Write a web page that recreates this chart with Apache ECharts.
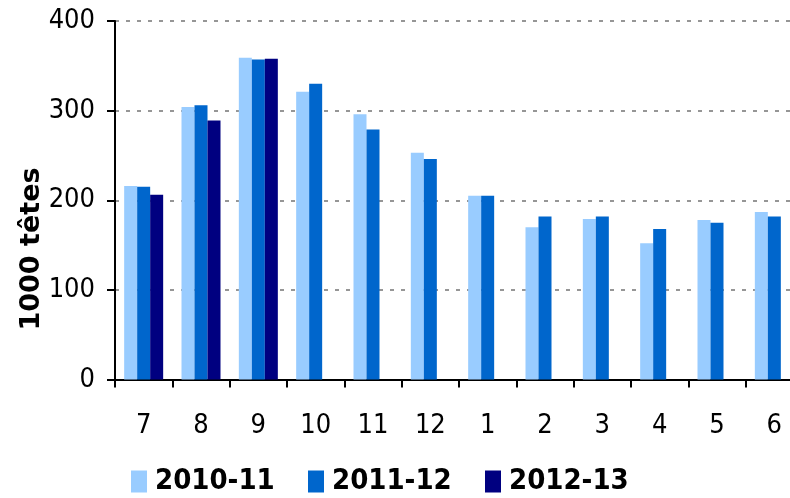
<!DOCTYPE html>
<html><head><meta charset="utf-8">
<script src="https://cdn.jsdelivr.net/npm/echarts@6/dist/echarts.min.js"></script>
<style>html,body{margin:0;padding:0;background:#fff;overflow:hidden}#c{width:803px;height:498px}</style>
</head><body><div id="c"></div>
<script>
var categories = ['7','8','9','10','11','12','1','2','3','4','5','6'];
var s2010 = [216, 304, 359, 321, 296, 253, 205, 170, 179, 152, 178, 187];
var s2011 = [215, 306, 357, 330, 279, 246, 205, 182, 182, 168, 175, 182];
var s2012 = [206, 289, 358, null, null, null, null, null, null, null, null, null];
var seriesNames = ['2010-11', '2011-12', '2012-13'];
var yTicks = [0, 100, 200, 300, 400];

var colors = ['#99CCFF', '#0066CC', '#000080'];
var narrow = '"Liberation Sans Narrow", "DejaVu Sans Condensed", sans-serif';
var wide = '"DejaVu Sans", sans-serif';
var chart = echarts.init(document.getElementById('c'));
function legend(name, left) {
  return {data: [name], left: left, top: 462, itemWidth: 16, itemHeight: 22, icon: 'rect',
    textStyle: {fontFamily: narrow, fontSize: 29, fontWeight: 'bold', color: '#000', padding: [0,0,0,3]}};
}
chart.setOption({
  animation: false,
  color: colors,
  grid: {left: 115, right: 0, top: 21, bottom: 118.5},
  legend: [legend(seriesNames[0], 126), legend(seriesNames[1], 303), legend(seriesNames[2], 480)],
  graphic: [{type: 'text', x: 32, y: 249, rotation: Math.PI / 2,
    style: {text: '1000 têtes', font: 'bold 27px ' + wide, fill: '#000', align: 'center', verticalAlign: 'middle'}}],
  xAxis: {type: 'category', data: categories,
    axisLine: {lineStyle: {color: '#000', width: 2}},
    axisTick: {show: true, length: 8, lineStyle: {color: '#000', width: 2}},
    axisLabel: {color: '#000', fontFamily: narrow, fontSize: 27, margin: 33}},
  yAxis: {type: 'value', min: yTicks[0], max: yTicks[yTicks.length - 1], interval: 100,
    axisLine: {show: true, lineStyle: {color: '#000', width: 2}},
    axisTick: {show: true, length: 8, lineStyle: {color: '#000', width: 2}},
    axisLabel: {color: '#000', fontFamily: narrow, fontSize: 27, margin: 20},
    splitLine: {lineStyle: {color: '#969696', width: 2, type: [4, 7]}}},
  series: [
    {name: seriesNames[0], type: 'bar', data: s2010, barWidth: 13, barGap: '0%', itemStyle: {color: colors[0]}},
    {name: seriesNames[1], type: 'bar', data: s2011, barWidth: 13, barGap: '0%', itemStyle: {color: colors[1]}},
    {name: seriesNames[2], type: 'bar', data: s2012, barWidth: 13, barGap: '0%', itemStyle: {color: colors[2]}}
  ]
});
</script></body></html>
